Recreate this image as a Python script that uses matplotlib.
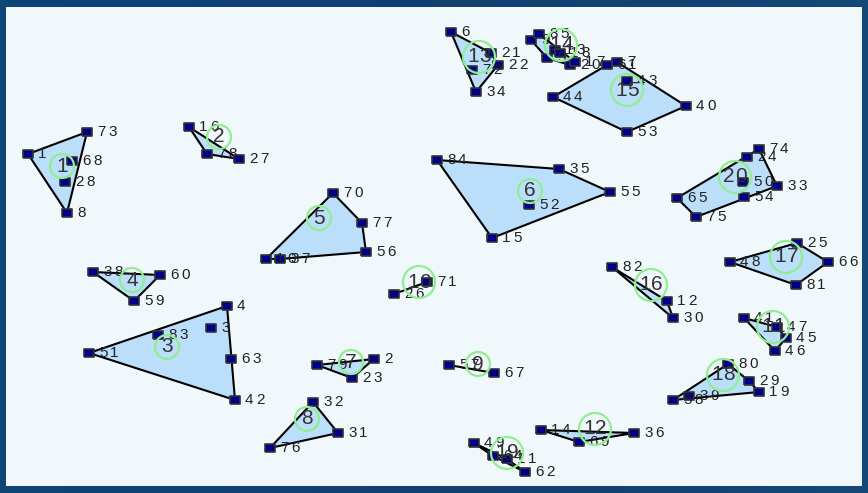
import matplotlib
matplotlib.use("Agg")
import matplotlib.pyplot as plt
from matplotlib.patches import Polygon, Circle
import numpy as np

px = 1/plt.rcParams['figure.dpi']

# points: id, position (in panel units), cluster
point_id = [1, 73, 68, 28, 8,
            16, 78, 27,
            51, 4, 3, 83, 63, 42,
            38, 60, 59,
            10, 37, 70, 77, 56,
            84, 35, 55, 52, 15,
            79, 2, 23,
            32, 31, 76,
            57, 67,
            26, 71,
            41, 47, 45, 46,
            14, 69, 36,
            6, 21, 22, 72, 34,
            9, 85, 5, 13, 18, 20, 17,
            44, 61, 7, 43, 40, 53,
            82, 12, 30,
            48, 25, 66, 81,
            80, 29, 19, 39, 58,
            49, 64, 11, 62,
            74, 24, 50, 33, 65, 54, 75]
point_x = [28, 87, 72, 65, 67,
           189, 207, 239,
           89, 227, 211, 158, 231, 235,
           93, 160, 134,
           266, 280, 333, 362, 366,
           437, 559, 610, 529, 492,
           317, 374, 352,
           313, 338, 270,
           449, 494,
           394, 427,
           744, 777, 786, 775,
           541, 579, 634,
           451, 491, 498, 472, 476,
           531, 539, 547, 555, 560, 570, 575,
           553, 607, 617, 627, 686, 627,
           612, 667, 673,
           730, 797, 828, 796,
           728, 749, 759, 689, 673,
           474, 493, 507, 525,
           759, 747, 743, 777, 677, 744, 696]
point_y = [154, 132, 161, 182, 213,
           127, 154, 159,
           353, 306, 328, 335, 359, 400,
           272, 275, 301,
           259, 259, 193, 223, 252,
           160, 169, 192, 205, 238,
           365, 359, 378,
           402, 433, 448,
           365, 373,
           294, 282,
           318, 327, 338, 351,
           430, 442, 433,
           32, 53, 65, 70, 92,
           40, 34, 58, 50, 53, 65, 62,
           97, 65, 62, 81, 106, 132,
           267, 301, 318,
           262, 243, 262, 285,
           364, 381, 392, 396, 400,
           443, 456, 459, 472,
           149, 157, 182, 186, 198, 197, 217]
point_cluster = [1]*5 + [2]*3 + [3]*6 + [4]*3 + [5]*5 + [6]*5 + [7]*3 + [8]*3 + \
    [9]*2 + [10]*2 + [11]*4 + [12]*3 + [13]*5 + [14]*7 + [15]*6 + [16]*3 + \
    [17]*4 + [18]*5 + [19]*4 + [20]*7

cluster_id = list(range(1, 21))
cluster_x = [62, 219, 167, 132, 319, 530, 351, 307, 478, 419,
             773, 595, 479, 561, 627, 651, 786, 723, 507, 735]
cluster_y = [166, 137, 347, 280, 218, 191, 362, 419, 364, 282,
             327, 429, 57, 45, 90, 285, 257, 375, 453, 177]

FONT = 'Liberation Sans'


def hull(pts):
    pts = sorted(set(pts))
    if len(pts) < 3:
        return pts
    def cross(o, a, b):
        return (a[0]-o[0])*(b[1]-o[1]) - (a[1]-o[1])*(b[0]-o[0])
    lower, upper = [], []
    for p in pts:
        while len(lower) >= 2 and cross(lower[-2], lower[-1], p) <= 0:
            lower.pop()
        lower.append(p)
    for p in reversed(pts):
        while len(upper) >= 2 and cross(upper[-2], upper[-1], p) <= 0:
            upper.pop()
        upper.append(p)
    return lower[:-1] + upper[:-1]


def spaced_text(ax, x, y, text, dx, size, adv, color, z, center=False):
    # draw digit by digit to get the wide tracking
    start = dx - (len(text)-1)*adv/2 if center else dx
    for i, ch in enumerate(text):
        ax.annotate(ch, (x, y), xytext=(start + i*adv, 0), textcoords='offset pixels',
                    ha='center' if center else 'left', va='center', fontsize=size,
                    family=FONT, color=color, zorder=z)


fig = plt.figure(figsize=(868*px, 493*px))
bg = fig.add_axes([0, 0, 1, 1])
grad = np.linspace(0, 1, 256).reshape(1, -1)
bg.imshow(grad, aspect='auto', cmap=matplotlib.colors.LinearSegmentedColormap.from_list(
    'bg', ['#0e4677', '#103f70', '#134877']), extent=[0, 1, 0, 1])
bg.axis('off')

ax = fig.add_axes([6/868, 7/493, 856/868, 479/493])
ax.set_facecolor('#f1f8fc')
ax.set_xlim(6, 862)
ax.set_ylim(486, 7)
ax.set_xticks([])
ax.set_yticks([])
for s in ax.spines.values():
    s.set_visible(False)

xs = np.array(point_x)
ys = np.array(point_y)
cl = np.array(point_cluster)

for c in cluster_id:
    m = cl == c
    h = hull(list(zip(xs[m], ys[m])))
    if len(h) >= 3:
        ax.add_patch(Polygon(h, closed=True, facecolor='#bbdefb', edgecolor='black',
                             lw=1.5, zorder=1))
    else:
        ax.plot([p[0] for p in h], [p[1] for p in h], color='black', lw=1.5, zorder=1)

rect = [(-5, -4), (5, -4), (5, 4), (-5, 4), (-5, -4)]
ax.plot(xs, ys, linestyle='none', marker=rect, markersize=7.6,
        markerfacecolor='#00008b', markeredgecolor='#333333', markeredgewidth=1.2, zorder=3)

for pid, x, y in zip(point_id, point_x, point_y):
    spaced_text(ax, x, y, str(pid), 10, 11, 11, '#222222', 4)

for cid, x, y in zip(cluster_id, cluster_x, cluster_y):
    r = 12 if cid < 10 else 16
    ax.add_patch(Circle((x, y), r, facecolor='none', edgecolor='#90ee90', lw=1.6, zorder=5))
    spaced_text(ax, x, y, str(cid), 0, 15, 12.5, '#333333', 6, center=True)

fig.savefig('out.png', dpi=100)
